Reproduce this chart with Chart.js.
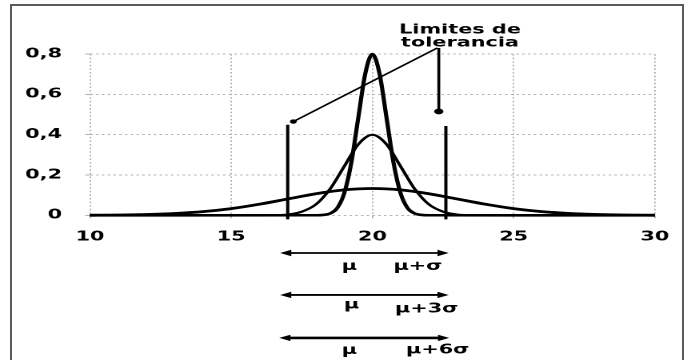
<!DOCTYPE html>
<html>
<head>
<meta charset="utf-8">
<script src="https://cdn.jsdelivr.net/npm/chart.js@4.4.0/dist/chart.umd.min.js"></script>
<style>
  html, body { margin: 0; padding: 0; background: #fff; overflow: hidden; }
  #stage { position: relative; width: 691px; height: 360px; overflow: hidden; }
  /* the reference is stretched sideways, so the chart is drawn narrow and widened */
  #wrap { position: absolute; left: 0; top: 0; width: 432px; height: 360px; transform: scaleX(1.5995); transform-origin: 0 0; }
  #frame { position: absolute; left: 10px; top: 4px; width: 674px; height: 420px; border: 2px solid #5b5b5b; box-sizing: border-box; }
</style>
</head>
<body>
<div id="stage">
  <div id="wrap"><canvas id="chart" width="432" height="360"></canvas></div>
  <div id="frame"></div>
</div>
<script>
const xTickLabels = ['10', '15', '20', '25', '30'];
const yTickLabels = ['0', '0,2', '0,4', '0,6', '0,8'];

// wide curve (sigma 3)
const wideX = [10, 11, 12, 13, 14, 15, 16, 17, 18, 19, 20, 21, 22, 23, 24, 25, 26, 27, 28, 29, 30];
const wideY = [0.0005, 0.0015, 0.004, 0.009, 0.018, 0.033, 0.055, 0.081, 0.107, 0.126, 0.133,
               0.126, 0.107, 0.081, 0.055, 0.033, 0.018, 0.009, 0.004, 0.0015, 0.0005];

// middle curve (sigma 1)
const midX = [10, 16, 16.5, 17, 17.5, 18, 18.5, 19, 19.5, 20, 20.5, 21, 21.5, 22, 22.5, 23, 23.5, 24, 30];
const midY = [0, 0.0001, 0.0009, 0.004, 0.018, 0.054, 0.13, 0.242, 0.352, 0.399,
              0.352, 0.242, 0.13, 0.054, 0.018, 0.004, 0.0009, 0.0001, 0];

// narrow curve (sigma 0.5)
const narrowX = [10, 18, 18.25, 18.5, 18.75, 19, 19.25, 19.5, 19.75, 20, 20.25, 20.5, 20.75, 21, 21.25, 21.5, 21.75, 22, 30];
const narrowY = [0, 0.0003, 0.0017, 0.009, 0.035, 0.108, 0.259, 0.484, 0.704, 0.8,
                 0.704, 0.484, 0.259, 0.108, 0.035, 0.009, 0.0017, 0.0003, 0];

const toleranceX = [17, 22.6];
const toleranceTop = [0.449, 0.443];
const toleranceBase = -0.02;

const calloutX = [17.2, 22.3];
const calloutY = [0.465, 0.83];
const pointerX = [22.35, 22.35];
const pointerY = [0.83, 0.515];
const calloutText = ['Limites de', 'tolerancia'];
const calloutTextX = 23.1;
const calloutTextY = [0.919, 0.855];

// arrows under the axis
const spanFrom = [16.73, 16.73, 16.7];
const spanTo = [22.7, 22.7, 22.72];
const spanY = [-0.187, -0.395, -0.608];
const spanWidth = [1.8, 1.8, 2.6];
const muX = [19.18, 19.26, 19.18];
const muY = [-0.255, -0.445, -0.672];
const endLabels = ['μ+σ', 'μ+3σ', 'μ+6σ'];
const endX = [21.61, 21.92, 22.31];
const endY = [-0.255, -0.466, -0.668];

const textFont = 'bold 13px "DejaVu Sans"';
const points = (xs, ys) => xs.map((x, i) => ({ x: x, y: ys[i] }));

function line(data, width, extra) {
  return Object.assign({
    data: data,
    borderColor: '#000',
    backgroundColor: '#000',
    borderWidth: width,
    pointRadius: 0,
    fill: false,
    clip: false,
    tension: 0
  }, extra || {});
}

function arrowHead(ctx, x, y, dir) {
  ctx.beginPath();
  ctx.moveTo(x, y);
  ctx.lineTo(x + dir * 7, y - 3.2);
  ctx.lineTo(x + dir * 7, y + 3.2);
  ctx.closePath();
  ctx.fill();
}

const annotations = {
  id: 'annotations',
  afterDatasetsDraw(chart) {
    const ctx = chart.ctx;
    const xs = chart.scales.x;
    const ys = chart.scales.y;
    ctx.save();
    ctx.fillStyle = '#000';
    ctx.strokeStyle = '#000';
    ctx.font = textFont;
    ctx.textAlign = 'center';
    ctx.textBaseline = 'middle';

    calloutText.forEach((t, i) => {
      ctx.fillText(t, xs.getPixelForValue(calloutTextX), ys.getPixelForValue(calloutTextY[i]));
    });

    spanY.forEach((v, i) => {
      const y = ys.getPixelForValue(v);
      const x1 = xs.getPixelForValue(spanFrom[i]);
      const x2 = xs.getPixelForValue(spanTo[i]);
      ctx.lineWidth = spanWidth[i];
      ctx.beginPath();
      ctx.moveTo(x1 + 3, y);
      ctx.lineTo(x2 - 3, y);
      ctx.stroke();
      arrowHead(ctx, x1, y, 1);
      arrowHead(ctx, x2, y, -1);
      ctx.fillText('μ', xs.getPixelForValue(muX[i]), ys.getPixelForValue(muY[i]));
      ctx.fillText(endLabels[i], xs.getPixelForValue(endX[i]), ys.getPixelForValue(endY[i]));
    });
    ctx.restore();
  }
};

new Chart(document.getElementById('chart'), {
  type: 'line',
  data: {
    datasets: [
      line(points(wideX, wideY), 2.8, { cubicInterpolationMode: 'monotone' }),
      line(points(midX, midY), 2.1, { cubicInterpolationMode: 'monotone' }),
      line(points(narrowX, narrowY), 2.6, { cubicInterpolationMode: 'monotone' }),
      line(points([toleranceX[0], toleranceX[0]], [toleranceBase, toleranceTop[0]]), 2),
      line(points([toleranceX[1], toleranceX[1]], [toleranceBase, toleranceTop[1]]), 2),
      line(points(calloutX, calloutY), 1.5, { pointRadius: [1.4, 0] }),
      line(points(pointerX, pointerY), 1.8, { pointRadius: [0, 2] })
    ]
  },
  options: {
    responsive: false,
    animation: false,
    devicePixelRatio: 2,
    layout: { padding: { left: 0, right: 22.6, top: 54, bottom: 114.7 } },
    plugins: { legend: { display: false }, tooltip: { enabled: false } },
    scales: {
      x: {
        type: 'linear',
        min: 10,
        max: 30,
        afterFit: s => { s.height = 30; },
        ticks: {
          stepSize: 5,
          padding: 11,
          color: '#000',
          font: { family: 'DejaVu Sans', size: 13, weight: 'bold' },
          callback: (v, i) => xTickLabels[i]
        },
        grid: { color: '#b4b4b4', lineWidth: 1, tickLength: 3 },
        border: { display: false, dash: [1.6, 2] }
      },
      y: {
        min: 0,
        max: 0.8,
        afterFit: s => { s.width = 56.25; },
        ticks: {
          stepSize: 0.2,
          padding: 14.5,
          color: '#000',
          font: { family: 'DejaVu Sans', size: 13, weight: 'bold' },
          callback: (v, i) => yTickLabels[i]
        },
        grid: { color: '#b4b4b4', lineWidth: 1, tickLength: 3 },
        border: { display: false, dash: [1.6, 2] }
      }
    }
  },
  plugins: [annotations]
});
</script>
</body>
</html>
